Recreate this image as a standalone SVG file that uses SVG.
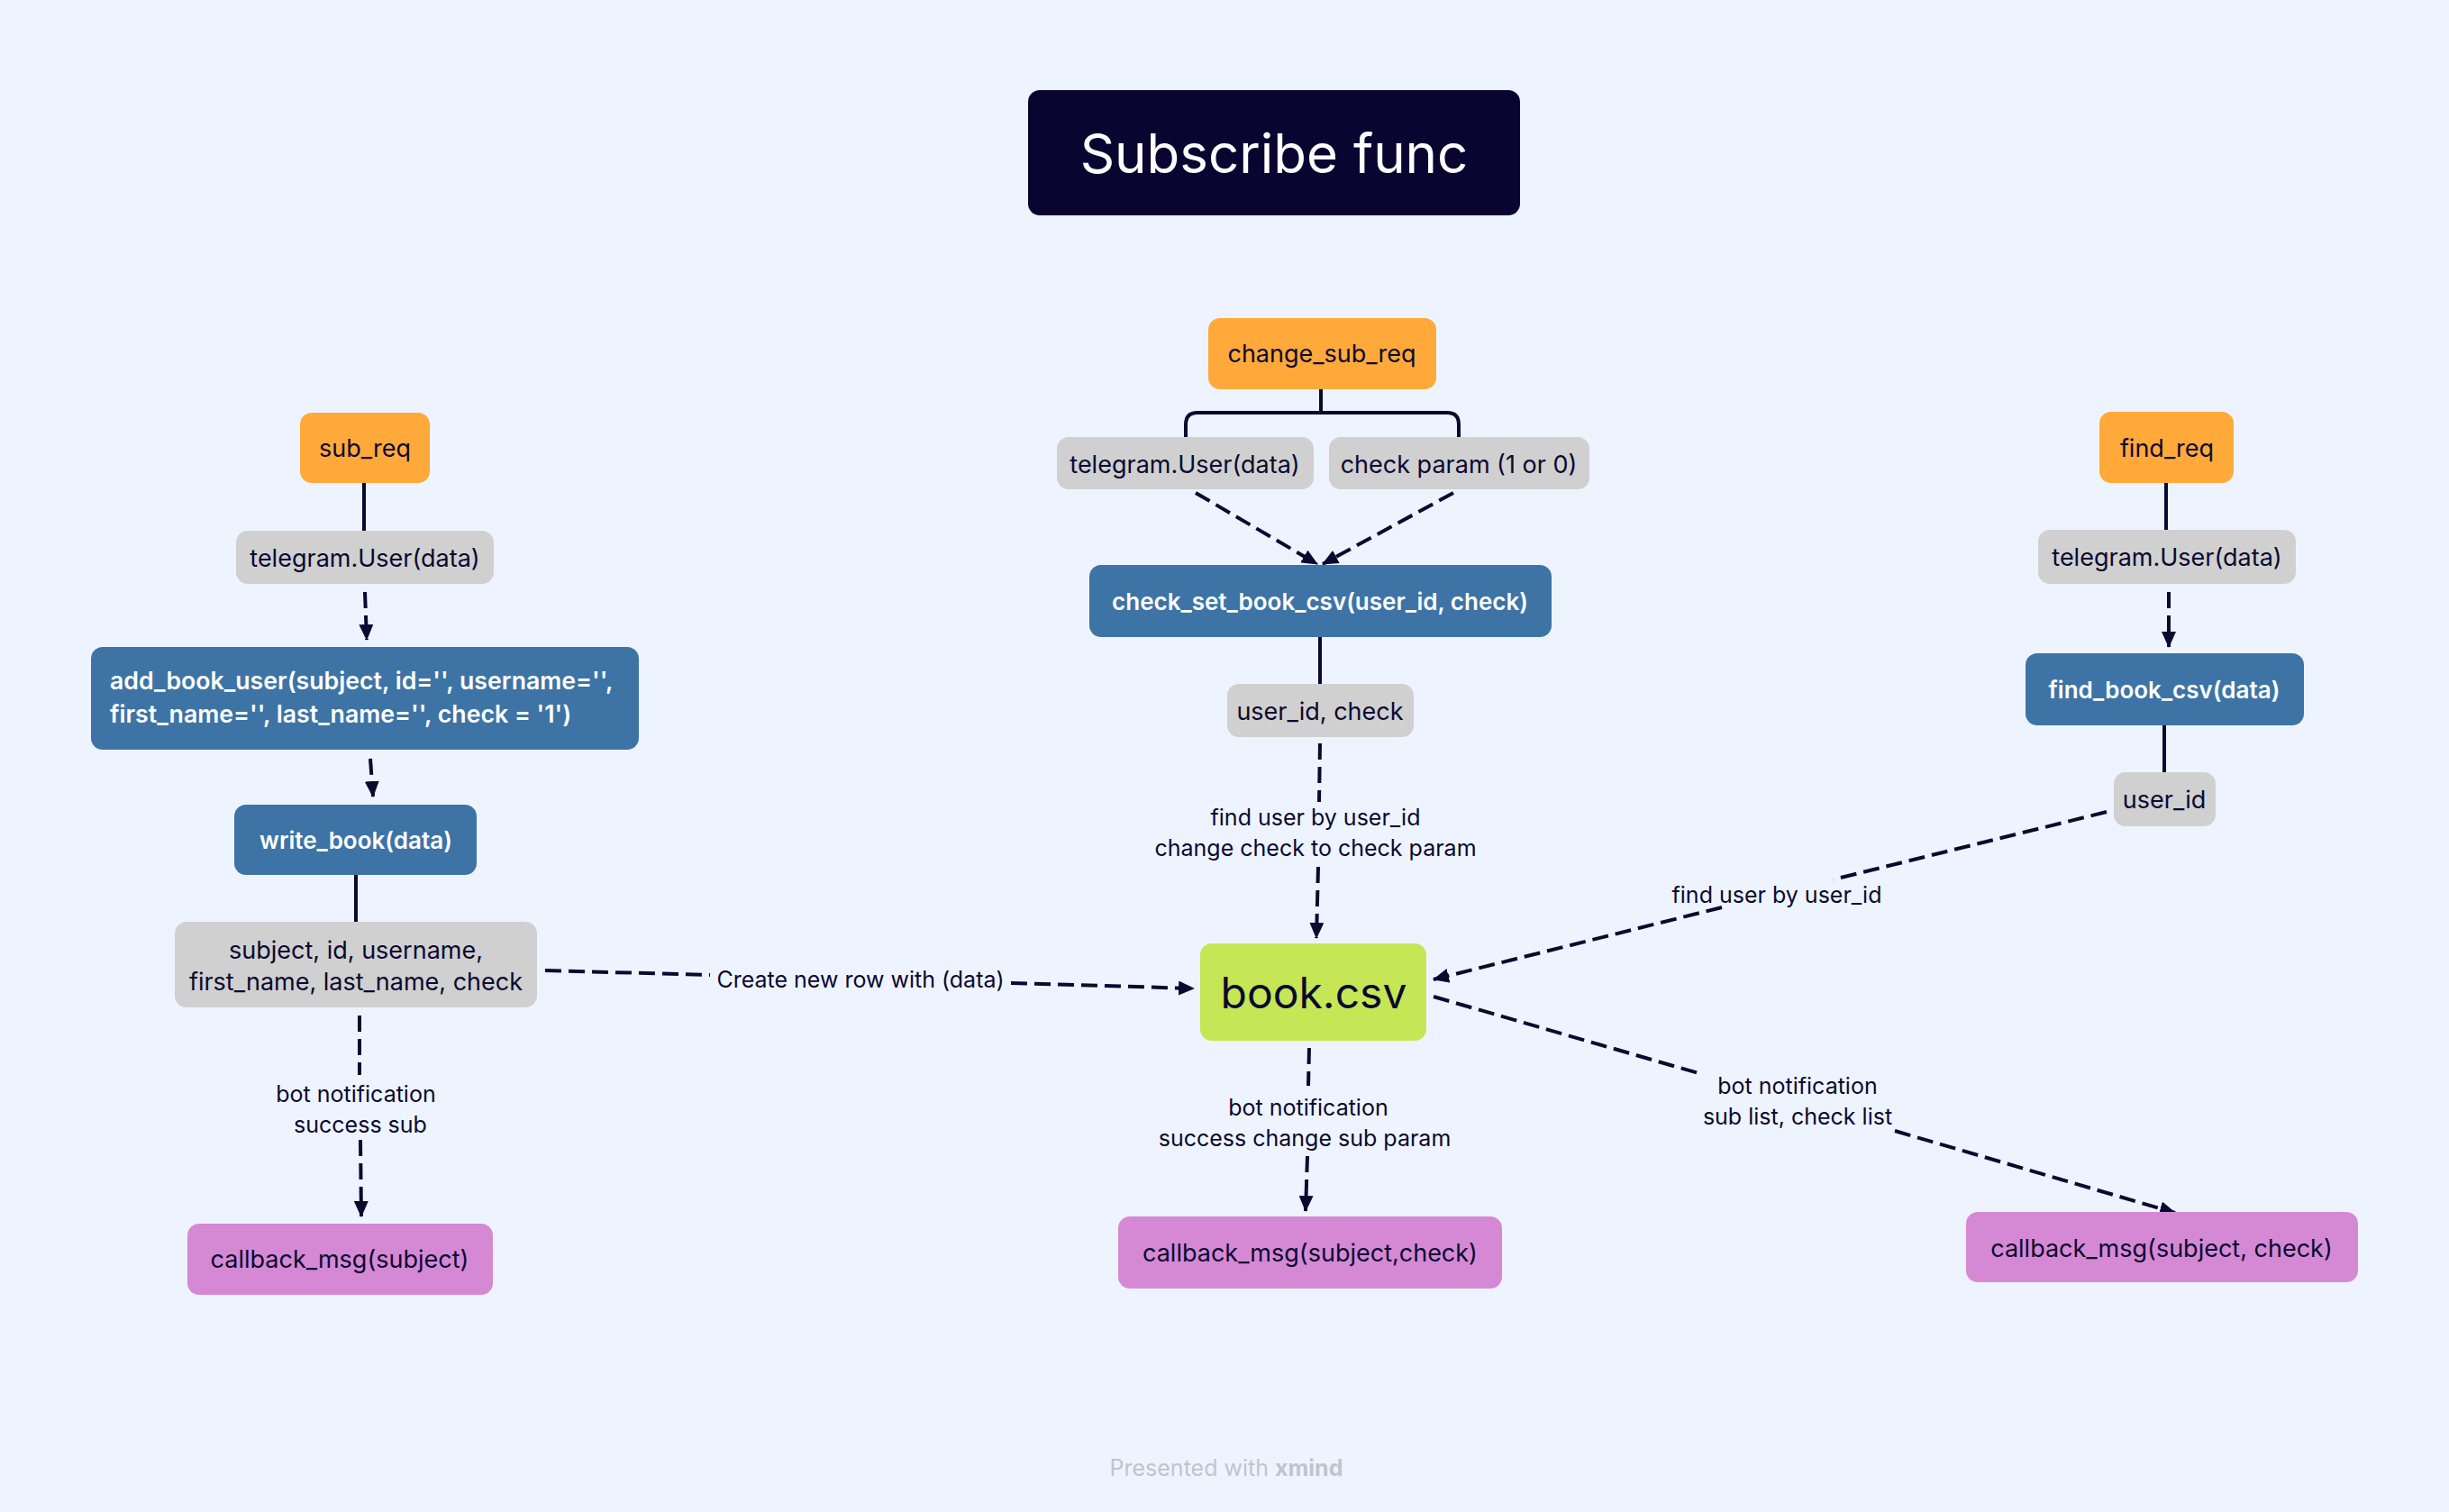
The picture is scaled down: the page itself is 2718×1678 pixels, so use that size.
<svg xmlns="http://www.w3.org/2000/svg" width="2718" height="1678" viewBox="0 0 2718 1678">
<defs>
<style>
text{font-family:Inter,Lato,"Noto Sans","Liberation Sans",sans-serif;fill:#0b0930;}
.n{font-size:27px;text-anchor:middle;dominant-baseline:central;}
.w{fill:#ffffff;font-weight:600;font-size:26px;}
.lb{font-size:25px;text-anchor:middle;dominant-baseline:central;}
.or{fill:#ffa93a;}
.gr{fill:#d0d0d0;}
.bl{fill:#3d74a5;}
.pu{fill:#d589d5;}
.sl{stroke:#0b0930;stroke-width:4;fill:none;}
.dl{stroke:#0b0930;stroke-width:4;fill:none;stroke-dasharray:18 8;}
.ar{marker-end:url(#ah);}
</style>
<marker id="ah" markerUnits="userSpaceOnUse" markerWidth="18" markerHeight="16" viewBox="0 0 18 16" refX="17" refY="8" orient="auto">
<path d="M0,0 L18,8 L0,16 Z" fill="#0b0930"/>
</marker>
</defs>
<rect width="2718" height="1678" fill="#eef4ff"/>

<g id="connectors">
<!-- left column -->
<line class="sl" x1="404" y1="536" x2="404" y2="589"/>
<line class="dl ar" x1="405" y1="657" x2="407" y2="710"/>
<line class="dl ar" x1="411" y1="842" x2="414" y2="884"/>
<line class="sl" x1="395" y1="971" x2="395" y2="1023"/>
<line class="dl" x1="399" y1="1127" x2="399" y2="1193"/>
<line class="dl ar" x1="400" y1="1265" x2="401" y2="1350"/>
<!-- create new row -->
<line class="dl" x1="605" y1="1077" x2="788" y2="1082"/>
<line class="dl ar" x1="1122" y1="1091" x2="1325" y2="1097"/>
<!-- middle column -->
<line class="sl" x1="1466" y1="432" x2="1466" y2="458"/>
<path class="sl" d="M1316,485 V471 Q1316,458 1329,458 H1606 Q1619,458 1619,471 V485"/>
<line class="dl ar" x1="1327" y1="547" x2="1462" y2="626"/>
<line class="dl ar" x1="1613" y1="547" x2="1468" y2="626"/>
<line class="sl" x1="1465" y1="706" x2="1465" y2="759"/>
<line class="dl" x1="1465" y1="825" x2="1464" y2="890"/>
<line class="dl ar" x1="1463" y1="962" x2="1461" y2="1041"/>
<line class="dl" x1="1453" y1="1163" x2="1452" y2="1205"/>
<line class="dl ar" x1="1451" y1="1283" x2="1449" y2="1344"/>
<!-- right column -->
<line class="sl" x1="2404" y1="536" x2="2404" y2="589"/>
<line class="dl ar" x1="2407" y1="657" x2="2407" y2="718"/>
<line class="sl" x1="2402" y1="805" x2="2402" y2="858"/>
<line class="dl" x1="2338" y1="901" x2="2035" y2="976"/>
<line class="dl ar" x1="1911" y1="1007" x2="1591" y2="1087"/>
<line class="dl" x1="1591" y1="1106" x2="1885" y2="1191"/>
<line class="dl ar" x1="2103" y1="1255" x2="2414" y2="1346"/>
<!-- labels -->
<text class="lb" x="955" y="1087">Create new row with (data)</text>
<text class="lb" x="395" y="1214">bot notification</text>
<text class="lb" x="400" y="1248">success sub</text>
<text class="lb" x="1460" y="907">find user by user_id</text>
<text class="lb" x="1460" y="941">change check to check param</text>
<text class="lb" x="1452" y="1229">bot notification</text>
<text class="lb" x="1448" y="1263">success change sub param</text>
<text class="lb" x="1972" y="993">find user by user_id</text>
<text class="lb" x="1995" y="1205">bot notification</text>
<text class="lb" x="1995" y="1239">sub list, check list</text>
</g>

<g id="title">
<rect x="1141" y="100" width="546" height="139" rx="13" fill="#0a0530"/>
<text x="1414" y="170" style="font-size:60px;fill:#ffffff;text-anchor:middle;dominant-baseline:central;">Subscribe func</text>
</g>

<!-- left -->
<g id="sub_req">
<rect class="or" x="333" y="458" width="144" height="78" rx="13"/>
<text class="n" x="405" y="497">sub_req</text>
</g>
<g id="tg_left">
<rect class="gr" x="262" y="589" width="286" height="59" rx="13"/>
<text class="n" x="405" y="619">telegram.User(data)</text>
</g>
<g id="add_book_user">
<rect class="bl" x="101" y="718" width="608" height="114" rx="13"/>
<text class="w" x="122" y="765" style="font-size:26.7px">add_book_user(subject, id='', username='',</text>
<text class="w" x="122" y="802" style="font-size:26.7px">first_name='', last_name='', check = '1')</text>
</g>
<g id="write_book">
<rect class="bl" x="260" y="893" width="269" height="78" rx="13"/>
<text class="n w" x="395" y="932">write_book(data)</text>
</g>
<g id="subject_fields">
<rect class="gr" x="194" y="1023" width="402" height="95" rx="13"/>
<text class="n" x="395" y="1054">subject, id, username,</text>
<text class="n" x="395" y="1089">first_name, last_name, check</text>
</g>
<g id="callback_left">
<rect class="pu" x="208" y="1358" width="339" height="79" rx="13"/>
<text class="n" x="377" y="1397">callback_msg(subject)</text>
</g>

<!-- middle -->
<g id="change_sub_req">
<rect class="or" x="1341" y="353" width="253" height="79" rx="13"/>
<text class="n" x="1467" y="392">change_sub_req</text>
</g>
<g id="tg_mid">
<rect class="gr" x="1173" y="485" width="285" height="58" rx="13"/>
<text class="n" x="1315" y="515">telegram.User(data)</text>
</g>
<g id="check_param">
<rect class="gr" x="1475" y="485" width="289" height="58" rx="13"/>
<text class="n" x="1619" y="515">check param (1 or 0)</text>
</g>
<g id="check_set_book_csv">
<rect class="bl" x="1209" y="627" width="513" height="80" rx="13"/>
<text class="n w" x="1465" y="667">check_set_book_csv(user_id, check)</text>
</g>
<g id="user_id_check">
<rect class="gr" x="1362" y="759" width="207" height="59" rx="13"/>
<text class="n" x="1465" y="789">user_id, check</text>
</g>
<g id="book_csv">
<rect x="1332" y="1047" width="251" height="108" rx="13" fill="#c5e655"/>
<text x="1458" y="1101" style="font-size:48px;text-anchor:middle;dominant-baseline:central;">book.csv</text>
</g>
<g id="callback_mid">
<rect class="pu" x="1241" y="1350" width="426" height="80" rx="13"/>
<text class="n" x="1454" y="1390">callback_msg(subject,check)</text>
</g>

<!-- right -->
<g id="find_req">
<rect class="or" x="2330" y="457" width="149" height="79" rx="13"/>
<text class="n" x="2405" y="497">find_req</text>
</g>
<g id="tg_right">
<rect class="gr" x="2262" y="588" width="286" height="60" rx="13"/>
<text class="n" x="2405" y="618">telegram.User(data)</text>
</g>
<g id="find_book_csv">
<rect class="bl" x="2248" y="725" width="309" height="80" rx="13"/>
<text class="n w" x="2402" y="765">find_book_csv(data)</text>
</g>
<g id="user_id">
<rect class="gr" x="2346" y="857" width="113" height="60" rx="13"/>
<text class="n" x="2402" y="887">user_id</text>
</g>
<g id="callback_right">
<rect class="pu" x="2182" y="1345" width="435" height="78" rx="13"/>
<text class="n" x="2399" y="1385">callback_msg(subject, check)</text>
</g>

<g id="footer">
<text x="1361" y="1629" style="font-size:25px;fill:#c0c4ce;text-anchor:middle;dominant-baseline:central;">Presented with <tspan style="font-weight:700;fill:#c0c4ce;">xmind</tspan></text>
</g>
</svg>
